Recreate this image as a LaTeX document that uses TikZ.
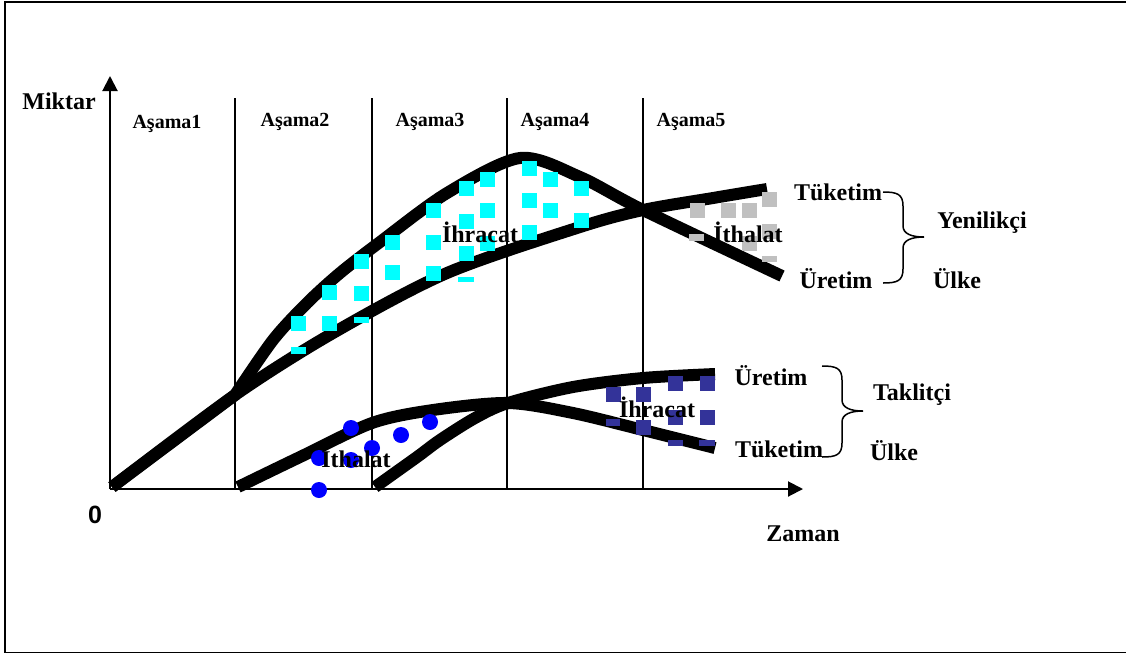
\documentclass[tikz,border=0pt]{standalone}
\usepackage{fontspec}
\setmainfont{Liberation Serif}
\newfontfamily\zerofont{Liberation Sans}
\usetikzlibrary{arrows.meta}

\definecolor{expaqua}{RGB}{0,255,255}
\definecolor{impgray}{RGB}{192,192,192}
\definecolor{expnavy}{RGB}{51,51,153}
\definecolor{impblue}{RGB}{0,0,255}

\begin{document}
\begin{tikzpicture}[x=1pt, y=-1pt,
  lbl/.style={font=\bfseries\fontsize{24}{26}\selectfont, inner sep=0pt, anchor=base},
  stagelbl/.style={font=\bfseries\fontsize{20}{22}\selectfont, inner sep=0pt, anchor=base},
  curve/.style={line width=12pt},
  stageline/.style={line width=1.5pt},
  axis/.style={line width=2pt, -{Triangle[length=15pt, width=15pt]}},
  brc/.style={line width=1.5pt}]
  \useasboundingbox (0,0) rectangle (1126,654);
  \draw[line width=1.5pt] (1126,2) -- (5,2) -- (5,652.5) -- (1126,652.5);

  % axes and stages
  \coordinate (o) at (110,489);
  \coordinate (ytop) at (110,76);
  \coordinate (xend) at (803,489);
  \foreach \x in {235,372,507,643}
    \draw[stageline] (\x,98) -- (\x,489);
  \draw[axis] (o) -- (ytop);
  \draw[axis] (o) -- (xend);

  % yenilikci ulke
  \draw[curve] (112,487) -- plot[smooth] coordinates {(235,395) (273,340) (307,303) (340,273) (380,242) (447,193) (520,158) (580,177) (643,210) (782,276)};
  \draw[curve] plot[smooth] coordinates {(112,487) (235,395) (333,333) (447,273) (580,227) (643,210) (713,198) (767,189)};
  % taklitci ulke
  \draw[curve] plot[smooth] coordinates {(238,487) (300,457) (372,423) (433,410) (508,403) (573,413) (643,430) (715,448)};
  \draw[curve] plot[smooth] coordinates {(375,487) (417,457) (440,440) (475,418) (508,403) (573,387) (643,378) (715,374)};

  % ihracat / ithalat marks
  \foreach \x/\y in {298/323, 329/292, 329/323, 361/261, 361/293, 392/242, 392/272,
      433/210, 433/242, 433/273, 466/188, 466/221, 466/253, 487/179, 487/210, 487/243,
      529/168, 529/200, 529/232, 550/179, 550/210, 581/188, 581/220}
    \fill[expaqua] (\x-7.5,\y-7.5) rectangle (\x+7.5,\y+7.5);
  \fill[expaqua] (291,347) rectangle (306,354);
  \fill[expaqua] (354,317) rectangle (369,323);
  \fill[expaqua] (458,277) rectangle (474,282);
  \foreach \x/\y in {697/210, 728/210, 749/210, 769/199, 749/243, 769/231}
    \fill[impgray] (\x-7.5,\y-7.5) rectangle (\x+7.5,\y+7.5);
  \fill[impgray] (689,234) rectangle (704,241);
  \fill[impgray] (762,256) rectangle (777,262);
  \foreach \x/\y in {613/394, 643/394, 675/383, 707/383, 643/427, 675/417, 707/417}
    \fill[expnavy] (\x-7.5,\y-7.5) rectangle (\x+7.5,\y+7.5);
  \fill[expnavy] (606,419) rectangle (620,426);
  \fill[expnavy] (668,440) rectangle (683,446);
  \fill[expnavy] (699,440) rectangle (715,446);
  \foreach \x/\y in {351/428, 319/458, 351/460, 372/448, 401/435, 430/422, 319/490}
    \fill[impblue] (\x,\y) circle (8);

  % labels
  \node[lbl] (miktar) at (59,109) {Miktar};
  \node[lbl] (zaman) at (803,541) {Zaman};
  \node[inner sep=0pt, anchor=base, font=\zerofont\bfseries\fontsize{25}{27}\selectfont] (sifir) at (95,523) {0};
  \node[stagelbl] (as1) at (167,128) {Aşama1};
  \node[stagelbl] (as2) at (295,126) {Aşama2};
  \node[stagelbl] (as3) at (430,126) {Aşama3};
  \node[stagelbl] (as4) at (555,126) {Aşama4};
  \node[stagelbl] (as5) at (691,126) {Aşama5};
  \node[lbl] (ihr1) at (480,242) {İhracat};
  \node[lbl] (ith1) at (748,242) {İthalat};
  \node[lbl] (ith2) at (356,467) {İthalat};
  \node[lbl] (ihr2) at (657,417) {İhracat};
  \node[lbl] (tuk1) at (838,200) {Tüketim};
  \node[lbl] (ure1) at (836,288) {Üretim};
  \node[lbl] (yen) at (982,228) {Yenilikçi};
  \node[lbl] (ulke1) at (957,288) {Ülke};
  \node[lbl] (ure2) at (771,385) {Üretim};
  \node[lbl] (tuk2) at (779,457) {Tüketim};
  \node[lbl] (tak) at (912,400) {Taklitçi};
  \node[lbl] (ulke2) at (894,460) {Ülke};

  % braces
  \coordinate (yb) at (883,192);
  \coordinate (tb) at (822,366);
  \draw[brc] (yb) .. controls +(14,0) and +(0,-12) .. ++(20,14) -- ++(0,20)
    .. controls +(0,8) and +(-12,0) .. ++(21,11)
    .. controls +(-12,0) and +(0,-8) .. ++(-21,11)
    -- ++(0,21) .. controls +(0,12) and +(14,0) .. ++(-20,14);
  \draw[brc] (tb) .. controls +(14,0) and +(0,-12) .. ++(20,14) -- ++(0,20)
    .. controls +(0,8) and +(-12,0) .. ++(21,11)
    .. controls +(-12,0) and +(0,-8) .. ++(-21,11)
    -- ++(0,21) .. controls +(0,12) and +(14,0) .. ++(-20,14);
\end{tikzpicture}
\end{document}
